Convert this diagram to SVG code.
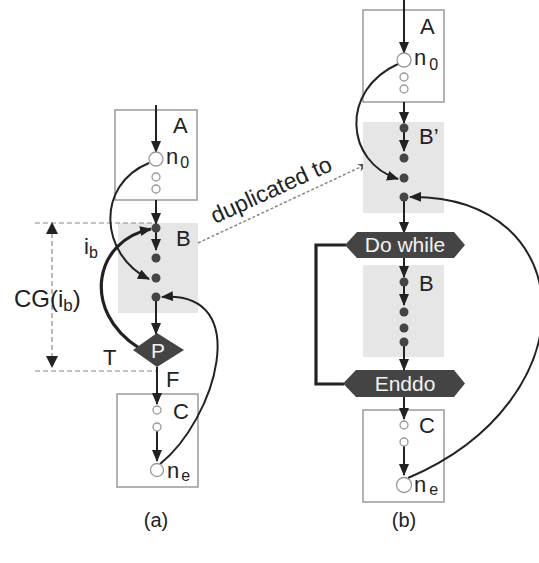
<svg xmlns="http://www.w3.org/2000/svg" width="539" height="563" viewBox="0 0 539 563">
<style>
text{font-family:"Liberation Sans",Arial,sans-serif;fill:#222}
.box{fill:none;stroke:#9a9a9a;stroke-width:1.5}
.blk{fill:#e6e6e6;stroke:none}
.ln{fill:none;stroke:#222;stroke-width:2}
.thick{fill:none;stroke:#222;stroke-width:3.2}
.dot{fill:#444}
.oc{fill:#fff;stroke:#999;stroke-width:1.3}
.dash{fill:none;stroke:#8a8a8a;stroke-width:1.2;stroke-dasharray:5 3}
.lbl{font-size:22px}
.shape{fill:#444}
.wt{fill:#f2f2f2;font-size:21px;text-anchor:middle}
</style>
<defs>
<marker id="ah" markerUnits="userSpaceOnUse" markerWidth="12" markerHeight="10" refX="11" refY="5" orient="auto"><path d="M0,0 L12,5 L0,10 Z" fill="#222"/></marker>
<marker id="ahg" markerUnits="userSpaceOnUse" markerWidth="10" markerHeight="8" refX="9" refY="4" orient="auto"><path d="M0,0 L10,4 L0,8 L3,4 Z" fill="#555"/></marker>
</defs>

<!-- ===== (a) ===== -->
<g id="a-blockB"><rect class="blk" x="118" y="223" width="80" height="90"/><text class="lbl" x="176" y="246">B</text></g>
<g id="a-boxA"><rect class="box" x="115" y="110" width="82" height="90"/><text class="lbl" x="173" y="133">A</text></g>
<g id="a-boxC"><rect class="box" x="117" y="394" width="81" height="93"/><text class="lbl" x="173" y="419">C</text></g>

<g id="a-dims">
<line class="dash" x1="35" y1="223" x2="156" y2="223"/>
<line class="dash" x1="35" y1="371" x2="156" y2="371"/>
<line class="dash" x1="52" y1="233" x2="52" y2="358"/>
<path d="M52,222 L46,234 L58,234 Z" fill="#222"/>
<path d="M52,368 L46,356 L58,356 Z" fill="#222"/>
<text x="14" y="307" font-size="24">CG(i<tspan font-size="17" dy="4">b</tspan><tspan dy="-4">)</tspan></text>
</g>

<g id="a-connectors">
<line class="ln" x1="156" y1="105" x2="156" y2="152" marker-end="url(#ah)"/>
<line class="ln" x1="156" y1="200" x2="156" y2="224" marker-end="url(#ah)"/>
<line class="ln" x1="156" y1="231" x2="156" y2="250" marker-end="url(#ah)"/>
<line class="ln" x1="156" y1="300" x2="156" y2="334" marker-end="url(#ah)"/>
<line class="ln" x1="157" y1="367" x2="157" y2="404" marker-end="url(#ah)"/>
<line class="ln" x1="157" y1="431" x2="157" y2="461" marker-end="url(#ah)"/>
<path class="ln" d="M149,163 C95,185 100,255 149,279" marker-end="url(#ah)"/>
<path class="ln" d="M160,464 C215,420 255,290 162,297" marker-end="url(#ah)"/>
<path class="thick" d="M139,348 C80,310 95,240 151,229" marker-end="url(#ah)"/>
<text x="84" y="254" font-size="22">i<tspan font-size="16" dy="4">b</tspan></text>
<text x="103" y="365" font-size="22">T</text>
<text x="166" y="387" font-size="22">F</text>
</g>

<g id="a-nodes">
<circle class="oc" cx="156" cy="159" r="7"/>
<text x="166" y="164" font-size="22">n<tspan font-size="16" dy="4" dx="2">0</tspan></text>
<circle class="oc" cx="156" cy="177" r="4"/>
<circle class="oc" cx="156" cy="189" r="4"/>
<circle class="dot" cx="156" cy="228" r="4.5"/>
<circle class="dot" cx="156" cy="258" r="4.5"/>
<circle class="dot" cx="156" cy="278" r="4.5"/>
<circle class="dot" cx="156" cy="297" r="4.5"/>
<g id="a-P"><path class="shape" d="M157,333 L184,350 L157,367 L133,350 Z"/><text class="wt" x="158" y="358" font-size="21">P</text></g>
<circle class="oc" cx="157" cy="410" r="4"/>
<circle class="oc" cx="157" cy="427" r="4"/>
<circle class="oc" cx="157" cy="470" r="6.5"/>
<text x="167" y="478" font-size="22">n<tspan font-size="16" dy="3" dx="2">e</tspan></text>
</g>

<!-- duplicated to -->
<g id="dup">
<line x1="198" y1="243" x2="367" y2="164" stroke="#888" stroke-width="1.5" stroke-dasharray="3 2" marker-end="url(#ahg)"/>
<text x="215" y="224" font-size="23" fill="#333" transform="rotate(-24.5 215 224)">duplicated to</text>
</g>

<!-- ===== (b) ===== -->
<g id="b-blockBp"><rect class="blk" x="363" y="122" width="81" height="91"/><text class="lbl" x="419" y="144">B’</text></g>
<g id="b-blockB"><rect class="blk" x="363" y="265" width="81" height="92"/><text class="lbl" x="419" y="291">B</text></g>
<g id="b-boxA"><rect class="box" x="363" y="10" width="81" height="92"/><text class="lbl" x="420" y="34">A</text></g>
<g id="b-boxC"><rect class="box" x="363" y="410" width="81" height="92"/><text class="lbl" x="419" y="433">C</text></g>

<g id="b-connectors">
<line class="ln" x1="404" y1="0" x2="404" y2="53" marker-end="url(#ah)"/>
<line class="ln" x1="404" y1="102" x2="404" y2="123" marker-end="url(#ah)"/>
<line class="ln" x1="404" y1="131" x2="404" y2="151" marker-end="url(#ah)"/>
<line class="ln" x1="404" y1="201" x2="404" y2="233" marker-end="url(#ah)"/>
<line class="ln" x1="404" y1="258" x2="404" y2="277" marker-end="url(#ah)"/>
<line class="ln" x1="404" y1="285" x2="404" y2="305" marker-end="url(#ah)"/>
<line class="ln" x1="404" y1="345" x2="404" y2="370" marker-end="url(#ah)"/>
<line class="ln" x1="404" y1="397" x2="404" y2="419" marker-end="url(#ah)"/>
<line class="ln" x1="404" y1="446" x2="404" y2="475" marker-end="url(#ah)"/>
<path class="ln" d="M398,64 C340,90 345,162 398,179" marker-end="url(#ah)"/>
<path class="ln" d="M408,478 C592,400 582,195 410,197" marker-end="url(#ah)"/>
<path class="thick" d="M346,245 L316,245 L316,384 L344,384"/>
</g>

<g id="b-nodes">
<circle class="oc" cx="404" cy="60" r="7"/>
<text x="414" y="65" font-size="22">n<tspan font-size="16" dy="5" dx="3">0</tspan></text>
<circle class="oc" cx="404" cy="77" r="4"/>
<circle class="oc" cx="404" cy="89" r="4"/>
<circle class="dot" cx="404" cy="128" r="4.5"/>
<circle class="dot" cx="404" cy="158" r="4.5"/>
<circle class="dot" cx="404" cy="178" r="4.5"/>
<circle class="dot" cx="404" cy="197" r="4.5"/>
<g id="b-dowhile"><path class="shape" d="M345,245 L357,232 L454,232 L465,245 L454,258 L357,258 Z"/><text class="wt" x="405" y="252">Do while</text></g>
<circle class="dot" cx="404" cy="282" r="4.5"/>
<circle class="dot" cx="404" cy="312" r="4.5"/>
<circle class="dot" cx="404" cy="328" r="4.5"/>
<circle class="dot" cx="404" cy="342" r="4.5"/>
<g id="b-enddo"><path class="shape" d="M343,383.5 L356,370 L454,370 L465,383.5 L454,397 L356,397 Z"/><text class="wt" x="405" y="391">Enddo</text></g>
<circle class="oc" cx="404" cy="425" r="4"/>
<circle class="oc" cx="404" cy="442" r="4"/>
<circle class="oc" cx="404" cy="485" r="7.5"/>
<text x="414" y="492" font-size="22">n<tspan font-size="16" dy="3" dx="3">e</tspan></text>
</g>

<g id="captions">
<text x="156" y="527" font-size="20" text-anchor="middle">(a)</text>
<text x="404" y="527" font-size="20" text-anchor="middle">(b)</text>
</g>
</svg>
